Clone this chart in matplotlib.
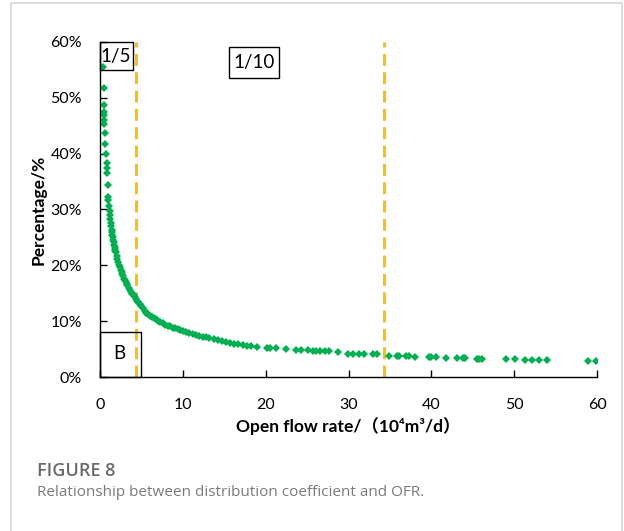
import matplotlib.pyplot as plt
from matplotlib.patches import Rectangle

# Open flow rate (10^4 m3/d) and distribution coefficient (%)
ofr = [
    0.4, 0.45, 0.5, 0.5, 0.5, 0.52, 0.52, 0.6, 0.65, 0.72, 0.8, 0.8, 0.8, 0.93, 1.0, 1.0,
    1.1, 1.15, 1.2, 1.25, 1.3, 1.35, 1.4, 1.45, 1.5, 1.55, 1.6, 1.65, 1.7, 1.75, 1.8, 1.85,
    1.9, 2.0, 2.1, 2.2, 2.3, 2.4, 2.5, 2.6, 2.7, 2.8, 2.9, 3.0, 3.1, 3.2, 3.3, 3.45,
    3.6, 3.75, 3.9, 4.05, 4.2, 4.35, 4.5,
    4.6, 4.8, 5.0, 5.2, 5.4, 5.6, 5.8, 6.0, 6.25, 6.5, 6.75, 7.0, 7.3, 7.6, 7.9, 8.2,
    8.5, 8.8, 9.1, 9.4, 9.7, 10.0, 10.4, 10.8, 11.2, 11.6, 12.0, 12.4, 12.8, 13.2, 13.7,
    14.2, 14.7, 15.2, 15.7, 16.2, 16.7, 17.2, 17.7, 18.2, 18.9,
    20.1, 20.5, 21.3, 22.5, 23.7, 24.3, 25.1, 25.7, 26.1, 26.5, 27.1, 27.7, 28.7,
    29.9, 30.5, 31.3, 31.9, 32.9, 33.4, 34.9, 35.8, 36.1, 36.9, 37.3, 38.0,
    39.7, 40.0, 40.5, 41.8, 43.1, 43.8, 44.0, 45.5, 45.8, 46.1, 49.0, 50.1,
    51.3, 52.2, 53.0, 53.9, 58.9, 59.9,
]
coef = [
    55.6, 51.8, 48.7, 47.5, 46.9, 46.0, 45.3, 43.7, 41.8, 39.9, 38.3, 37.4, 36.5, 34.4, 32.3, 31.7,
    30.6, 29.8, 29.0, 28.3, 27.6, 27.0, 26.4, 25.9, 25.4, 25.0, 24.5, 24.1, 23.7, 23.3, 23.0, 22.6,
    22.3, 21.7, 21.2, 20.6, 20.1, 19.7, 19.2, 18.8, 18.4, 18.0, 17.6, 17.3, 17.0, 16.7, 16.4, 16.0,
    15.6, 15.2, 14.9, 14.6, 14.3, 14.0, 13.7,
    13.4, 13.1, 12.7, 12.3, 11.9, 11.5, 11.3, 11.0, 10.8, 10.5, 10.3, 10.1, 9.85, 9.6, 9.4, 9.2,
    9.05, 8.85, 8.7, 8.55, 8.4, 8.25, 8.05, 7.9, 7.7, 7.55, 7.4, 7.25, 7.1, 6.95, 6.8,
    6.65, 6.5, 6.3, 6.15, 6.0, 5.9, 5.75, 5.6, 5.5, 5.4,
    5.25, 5.25, 5.2, 4.95, 4.8, 4.8, 4.75, 4.7, 4.7, 4.7, 4.65, 4.6, 4.45,
    4.15, 4.15, 4.1, 4.1, 4.1, 4.05, 3.8, 3.75, 3.75, 3.7, 3.7, 3.65,
    3.5, 3.5, 3.5, 3.4, 3.35, 3.35, 3.35, 3.3, 3.3, 3.3, 3.2, 3.2,
    3.1, 3.1, 3.1, 3.05, 2.9, 2.9,
]
split_lines = [4.4, 34.3]

plt.rcParams['font.family'] = ['Lato', 'Noto Sans CJK SC', 'DejaVu Sans']

fig = plt.figure(figsize=(6.24, 5.31), dpi=100)
ax = fig.add_axes([0.1603, 0.29, 0.7965, 0.631])

ax.plot(ofr, [c / 100 for c in coef], linestyle='none', marker='D',
        markersize=4.3, color='#00B050', markeredgewidth=0)

for xv in split_lines:
    ax.axvline(xv, ymin=0, ymax=1, color='#FFC000', linewidth=2.2,
               linestyle=(0, (3.9, 2.1)), zorder=1)

ax.set_xlim(0, 60)
ax.set_ylim(0, 0.6)
ax.set_xticks(range(0, 61, 10))
ax.set_yticks([i / 10 for i in range(7)])
ax.set_yticklabels([f"{i * 10}%" for i in range(7)])
ax.spines['top'].set_visible(False)
ax.spines['right'].set_visible(False)
for s in ('left', 'bottom'):
    ax.spines[s].set_color('black')
    ax.spines[s].set_linewidth(1.0)
ax.tick_params(direction='in', length=5, width=1, labelsize=11.5, pad=13)
ax.tick_params(axis='x', pad=15)

ax.set_ylabel("Percentage/%", fontsize=12.5, fontweight='bold', labelpad=3)
ax.set_xlabel("Open flow rate/（10⁴m³/d）", fontsize=12.5, fontweight='bold', labelpad=4)

# annotation boxes
boxes = [((0, 0.549), 3.95, 0.051), ((15.6, 0.536), 6.05, 0.055), ((0, 0), 4.95, 0.081)]
for (bx, by), bw, bh in boxes:
    ax.add_patch(Rectangle((bx, by), bw, bh, fill=False, edgecolor='black',
                           linewidth=1.0, clip_on=False, zorder=3))
ax.text(1.9, 0.574, "1/5", fontsize=13.5, ha='center', va='center', zorder=4)
ax.text(18.6, 0.563, "1/10", fontsize=13.5, ha='center', va='center', zorder=4)
ax.text(2.35, 0.042, "B", fontsize=13.5, ha='center', va='center', zorder=4)

# figure frame and caption
fig.patches.append(Rectangle((11 / 624, -0.01), 611 / 624, 1 - 3 / 531 + 0.01,
                             transform=fig.transFigure, fill=False,
                             edgecolor='#d6d6d6', linewidth=1.2))
fig.text(37 / 624, 1 - 471 / 531, "FIGURE 8", fontsize=13, fontweight='semibold',
         color='#6a6a6a', family='Open Sans', va='center')
fig.text(37 / 624, 1 - 492 / 531, "Relationship between distribution coefficient and OFR.",
         fontsize=11, color='#7a7a7a', family='Open Sans', va='center')

fig.savefig("out.png", dpi=100)
